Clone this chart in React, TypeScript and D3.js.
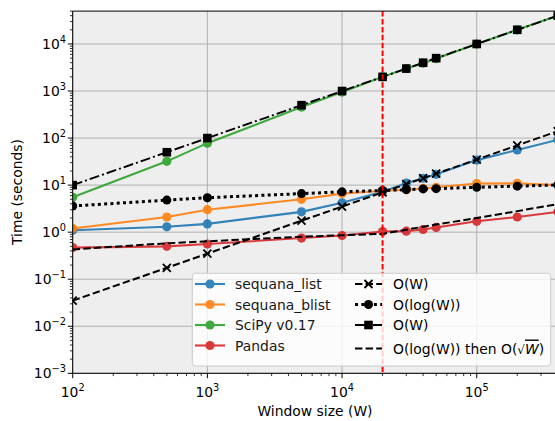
import React from 'react';
import * as d3 from 'd3';

// window sizes (x) and timings (seconds)
const windows = [100, 500, 1000, 5000, 10000, 20000, 30000, 40000, 50000, 100000, 200000, 400000];
const sequanaList = [1.1, 1.3, 1.5, 2.7, 4.2, 7.2, 11, 14, 17, 34, 56, 92];
const sequanaBlist = [1.2, 2.1, 3.0, 5.0, 6.6, 7.6, 8.0, 8.5, 9.0, 10.8, 10.9, 10.0];
const scipy = [5.5, 32, 78, 456, 950, 2000, 3000, 3900, 4900, 10000, 20000, 40000];
const pandas = [0.47, 0.5, 0.56, 0.75, 0.85, 1.03, 1.05, 1.14, 1.26, 1.7, 2.1, 2.7];
// reference complexity curves
const refW = [0.035, 0.175, 0.35, 1.75, 3.5, 7, 10.5, 14, 17.5, 35, 70, 140];
const refLogW = [3.6, 4.8, 5.4, 6.6, 7.2, 7.7, 8.0, 8.3, 8.4, 9.0, 9.5, 10.1];
const refWBig = [10, 50, 100, 500, 1000, 2000, 3000, 4000, 5000, 10000, 20000, 40000];
const refLogSqrt = [0.43, 0.58, 0.64, 0.8, 0.86, 0.92, 1.13, 1.3, 1.45, 2.0, 2.8, 3.95];
const threshold = 20000;

const xTickExps = [2, 3, 4, 5];
const yTickExps = [-3, -2, -1, 0, 1, 2, 3, 4];

const colored = [
  { name: 'sequana_list', color: '#1f77b4', values: sequanaList },
  { name: 'sequana_blist', color: '#ff7f0e', values: sequanaBlist },
  { name: 'SciPy v0.17', color: '#2ca02c', values: scipy },
  { name: 'Pandas', color: '#d62728', values: pandas },
];

const refs = [
  { name: 'O(W)', values: refW, marker: 'x', dash: '7.4,3.2', width: 2 },
  { name: 'O(log(W))', values: refLogW, marker: 'o', dash: '3,3.3', width: 3 },
  { name: 'O(W)', values: refWBig, marker: 's', dash: '10,3,2,3', width: 1.9 },
  { name: 'O(log(W)) then O(√W)', values: refLogSqrt, marker: null, dash: '7.4,3.2', width: 2 },
];

const FONT = 'DejaVu Sans, sans-serif';
const FS = 13.9;

const x = d3.scaleLog().domain([100, 400000]).range([72.7, 557.8]);
const y = d3.scaleLog().domain([1e-3, 5e4]).range([373.3, 11.1]);

const minorTicks = (lo: number, hi: number) => {
  const out: number[] = [];
  for (let e = lo; e < hi; e++) for (let k = 2; k <= 9; k++) out.push(k * Math.pow(10, e));
  return out;
};

const Marker = ({ type, cx, cy, color }: { type: string | null; cx: number; cy: number; color: string }) => {
  if (type === 'o') return <circle cx={cx} cy={cy} r={4.5} fill={color} />;
  if (type === 's') return <rect x={cx - 4.3} y={cy - 4.3} width={8.6} height={8.6} fill={color} />;
  if (type === 'x')
    return (
      <path d={`M${cx - 4},${cy - 4}L${cx + 4},${cy + 4}M${cx - 4},${cy + 4}L${cx + 4},${cy - 4}`} stroke={color} strokeWidth={1.8} />
    );
  return null;
};

const Pow = ({ e, px, py, anchor }: { e: number; px: number; py: number; anchor: string }) => (
  <text x={px} y={py} textAnchor={anchor} fontFamily={FONT} fontSize={FS} fill="#000">
    10<tspan dy={-6} fontSize={9.8}>{e < 0 ? `\u2212${-e}` : e}</tspan>
  </text>
);

export default function App() {
  const [x0, x1] = x.range();
  const [yb, yt] = y.range();
  const line = d3
    .line<number>()
    .x((_, i) => x(windows[i]))
    .y((d) => y(d));

  const lx = 192.3;
  const ly = 273.3;
  const rowY = [284, 304.5, 325, 345.5];
  const rowY2 = [284, 304.5, 325, 348.5];

  return (
    <svg width={555} height={421} style={{ position: 'absolute', left: 0, top: 0 }}>
      <defs>
        <clipPath id="plot">
          <rect x={x0} y={yt} width={x1 - x0} height={yb - yt} />
        </clipPath>
      </defs>
      <rect width={555} height={421} fill="#fff" />
      <rect x={x0} y={yt} width={x1 - x0} height={yb - yt} fill="#eeeeee" />

      {/* grid */}
      {xTickExps.map((e) => (
        <line key={'gx' + e} x1={x(10 ** e)} x2={x(10 ** e)} y1={yt} y2={yb} stroke="#b0b0b0" strokeWidth={1} />
      ))}
      {yTickExps.map((e) => (
        <line key={'gy' + e} x1={x0} x2={x1} y1={y(10 ** e)} y2={y(10 ** e)} stroke="#b0b0b0" strokeWidth={1} />
      ))}

      <g clipPath="url(#plot)">
        {colored.map((s) => (
          <g key={s.name} opacity={0.9}>
            <path d={line(s.values) || ''} fill="none" stroke={s.color} strokeWidth={2.1} />
            {s.values.map((v, i) => (
              <circle key={i} cx={x(windows[i])} cy={y(v)} r={4.6} fill={s.color} />
            ))}
          </g>
        ))}
        {refs.map((r, k) => (
          <g key={'r' + k}>
            <path d={line(r.values) || ''} fill="none" stroke="#000" strokeWidth={r.width} strokeDasharray={r.dash} />
            {r.values.map((v, i) => (
              <Marker key={i} type={r.marker} cx={x(windows[i])} cy={y(v)} color="#000" />
            ))}
          </g>
        ))}
        <line x1={x(threshold)} x2={x(threshold)} y1={yt} y2={yb} stroke="#ff0000" strokeWidth={2} strokeDasharray="5.5,2.4" />
      </g>

      {/* spines */}
      <line x1={x0} x2={x0} y1={yt} y2={yb} stroke="#000" strokeWidth={1} />
      <line x1={x0} x2={x1} y1={yb} y2={yb} stroke="#000" strokeWidth={1} />
      <line x1={x0} x2={x1} y1={yt} y2={yt} stroke="#000" strokeWidth={1} />

      {/* x ticks */}
      {xTickExps.map((e) => (
        <g key={'tx' + e}>
          <line x1={x(10 ** e)} x2={x(10 ** e)} y1={yb} y2={yb + 4.9} stroke="#000" />
          <Pow e={e} px={x(10 ** e)} py={397} anchor="middle" />
        </g>
      ))}
      {minorTicks(2, 6)
        .filter((v) => v <= 400000)
        .map((v) => (
          <line key={'mx' + v} x1={x(v)} x2={x(v)} y1={yb} y2={yb + 2.8} stroke="#000" strokeWidth={0.8} />
        ))}

      {/* y ticks */}
      {yTickExps.map((e) => (
        <g key={'ty' + e}>
          <line x1={x0 - 4.9} x2={x0} y1={y(10 ** e)} y2={y(10 ** e)} stroke="#000" />
          <Pow e={e} px={66} py={y(10 ** e) + 5} anchor="end" />
        </g>
      ))}
      {minorTicks(-3, 5)
        .filter((v) => v <= 5e4)
        .map((v) => (
          <line key={'my' + v} x1={x0 - 2.8} x2={x0} y1={y(v)} y2={y(v)} stroke="#000" strokeWidth={0.8} />
        ))}

      <text x={315} y={416} textAnchor="middle" fontFamily={FONT} fontSize={FS} fill="#000">
        Window size (W)
      </text>
      <text transform="translate(22,192) rotate(-90)" textAnchor="middle" fontFamily={FONT} fontSize={FS} fill="#000">
        Time (seconds)
      </text>

      {/* legend */}
      <rect x={lx} y={ly} width={358.4} height={92.7} rx={3} fill="#fff" fillOpacity={0.8} stroke="#cccccc" strokeWidth={1} />
      {colored.map((s, i) => (
        <g key={'l' + i} opacity={0.9}>
          <line x1={195} x2={225} y1={rowY[i]} y2={rowY[i]} stroke={s.color} strokeWidth={2.1} />
          <circle cx={210} cy={rowY[i]} r={4.6} fill={s.color} />
          <text x={235} y={rowY[i] + 5} fontFamily={FONT} fontSize={FS} fill="#000">
            {s.name}
          </text>
        </g>
      ))}
      {refs.map((r, i) => (
        <g key={'lr' + i}>
          <line x1={355} x2={382} y1={rowY2[i]} y2={rowY2[i]} stroke="#000" strokeWidth={r.width} strokeDasharray={r.dash} />
          <Marker type={r.marker} cx={368.5} cy={rowY2[i]} color="#000" />
          {i < 3 ? (
            <text x={393} y={rowY2[i] + 5} fontFamily={FONT} fontSize={FS} fill="#000">
              {r.name}
            </text>
          ) : (
            <text x={393} y={rowY2[i] + 5} fontFamily={FONT} fontSize={FS} fill="#000">
              O(log(W)) then O(<tspan fontSize={12}>√</tspan>
              <tspan fontStyle="italic" style={{ textDecoration: 'overline' }}>W</tspan>)
            </text>
          )}
        </g>
      ))}
    </svg>
  );
}
